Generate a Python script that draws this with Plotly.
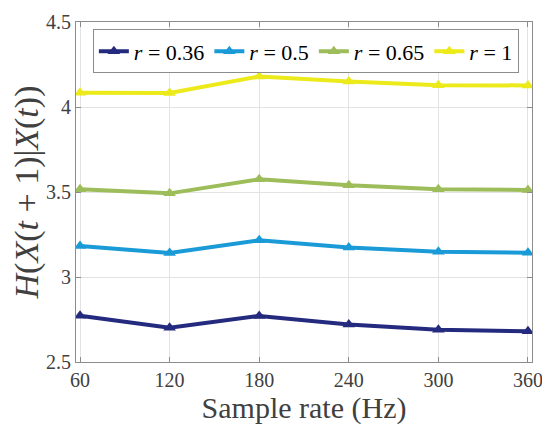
import plotly.graph_objects as go

sample_rate = [60, 120, 180, 240, 300, 360]
r036 = [2.772, 2.702, 2.771, 2.720, 2.689, 2.681]
r05 = [3.182, 3.141, 3.216, 3.173, 3.149, 3.143]
r065 = [3.516, 3.492, 3.575, 3.539, 3.516, 3.512]
r1 = [4.084, 4.082, 4.180, 4.150, 4.128, 4.127]

series = [
    ("<i>r</i> = 0.36", r036, "#242a7e"),
    ("<i>r</i> = 0.5", r05, "#1a9ad6"),
    ("<i>r</i> = 0.65", r065, "#9dbd5a"),
    ("<i>r</i> = 1", r1, "#ecea1a"),
]

fig = go.Figure()
for name, ys, col in series:
    fig.add_trace(go.Scatter(
        x=sample_rate, y=ys, name=name, mode="lines+markers",
        line=dict(color=col, width=4),
        marker=dict(symbol="triangle-up", size=11, color=col),
    ))

font = "Liberation Serif"
fig.update_layout(
    width=542, height=429,
    margin=dict(l=68, r=18, t=14, b=75, autoexpand=False),
    paper_bgcolor="white", plot_bgcolor="white",
    font=dict(family=font, color="#262626", size=18),
    showlegend=True,
    legend=dict(
        orientation="h", x=0.037, y=0.978, xanchor="left", yanchor="top",
        bgcolor="white", bordercolor="#8c8c8c", borderwidth=1,
        font=dict(family=font, size=22, color="#000000"),
        itemwidth=30, tracegroupgap=0,
    ),
    xaxis=dict(
        range=[57.3, 362.7], tickvals=sample_rate,
        ticktext=[str(v) for v in sample_rate],
        automargin=False,
        showgrid=True, gridcolor="#e3e3e3", gridwidth=1,
        showline=True, linecolor="#8c8c8c", linewidth=1, mirror="ticks",
        ticks="inside", ticklen=5, tickcolor="#8c8c8c",
        tickfont=dict(family=font, size=20, color="#404040"),
        title=dict(text="Sample rate (Hz)", font=dict(family=font, size=30, color="#404040"), standoff=4),
        zeroline=False,
    ),
    yaxis=dict(
        range=[2.5, 4.5], tickvals=[2.5, 3, 3.5, 4, 4.5],
        ticktext=["2.5", "3", "3.5", "4", "4.5"],
        automargin=False,
        showgrid=True, gridcolor="#e3e3e3", gridwidth=1,
        showline=True, linecolor="#8c8c8c", linewidth=1, mirror="ticks",
        ticks="inside", ticklen=5, tickcolor="#8c8c8c",
        tickfont=dict(family=font, size=20, color="#404040"),
        title=dict(text="<i>H</i>(<i>X</i>(<i>t</i> + 1)|<i>X</i>(<i>t</i>))",
                   font=dict(family=font, size=34, color="#404040"), standoff=4),
        zeroline=False,
    ),
)

fig.write_html("out.html")
